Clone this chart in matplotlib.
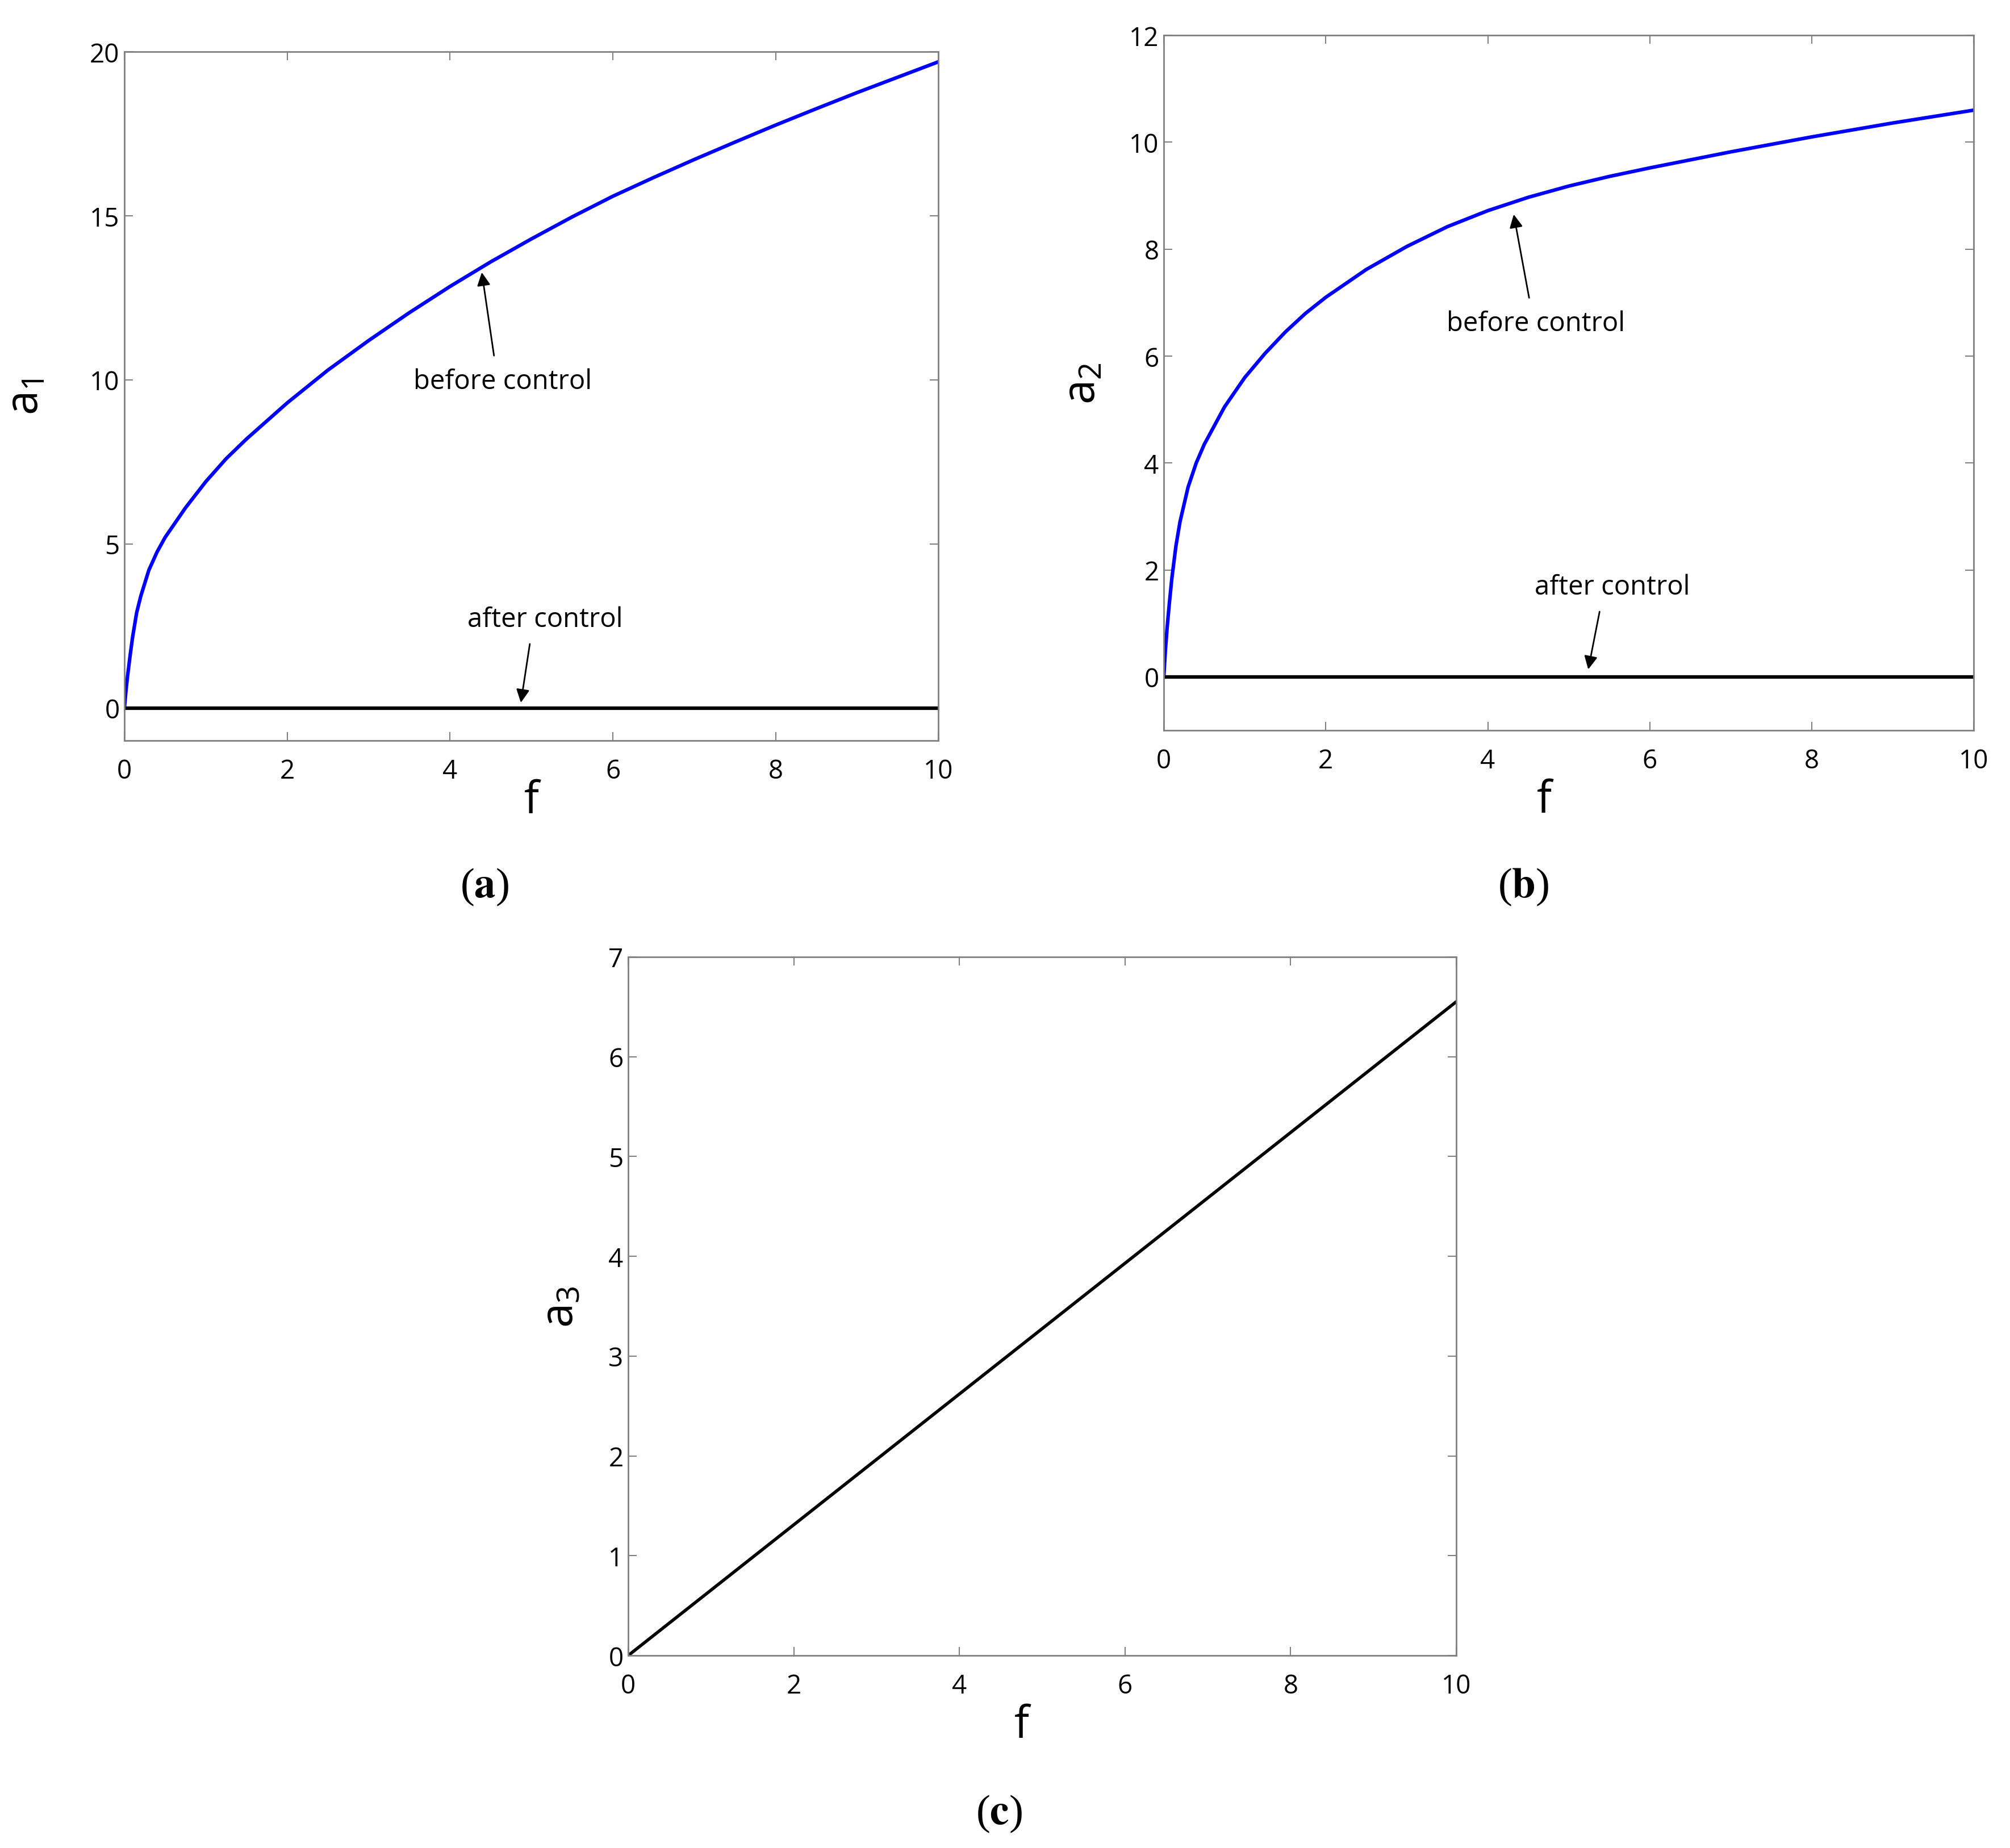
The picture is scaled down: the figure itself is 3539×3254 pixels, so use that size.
import numpy as np
import matplotlib
matplotlib.use("Agg")
import matplotlib.pyplot as plt

# values
f_a1 = [0, 0.02, 0.04, 0.07, 0.1, 0.15, 0.2, 0.3, 0.4, 0.5, 0.75, 1.0, 1.25, 1.5, 1.75,
        2.0, 2.5, 3.0, 3.5, 4.0, 4.5, 5.0, 5.5, 6.0, 6.5, 7.0, 7.5, 8.0, 8.5, 9.0, 9.5, 10.0]
a1_before = [0, 0.55, 1.0, 1.6, 2.15, 2.9, 3.4, 4.2, 4.75, 5.2, 6.1, 6.9, 7.6, 8.2, 8.75,
             9.3, 10.3, 11.2, 12.05, 12.85, 13.6, 14.3, 14.97, 15.6, 16.17, 16.72, 17.25,
             17.77, 18.27, 18.76, 19.23, 19.7]

f_a2 = [0, 0.02, 0.04, 0.07, 0.1, 0.15, 0.2, 0.3, 0.4, 0.5, 0.75, 1.0, 1.25, 1.5, 1.75,
        2.0, 2.5, 3.0, 3.5, 4.0, 4.5, 5.0, 5.5, 6.0, 6.5, 7.0, 7.5, 8.0, 8.5, 9.0, 9.5, 10.0]
a2_before = [0, 0.5, 0.9, 1.4, 1.85, 2.45, 2.9, 3.55, 4.0, 4.35, 5.05, 5.6, 6.05, 6.45, 6.8,
             7.1, 7.62, 8.05, 8.42, 8.72, 8.97, 9.18, 9.36, 9.52, 9.67, 9.82, 9.96,
             10.1, 10.23, 10.36, 10.48, 10.6]

f_after = [0, 10]
a_after = [0, 0]

f_a3 = [0, 10]
a3_vals = [0, 6.55]

plt.rcParams["font.family"] = ["Open Sans", "DejaVu Sans"]
plt.rcParams["mathtext.fontset"] = "custom"
plt.rcParams["mathtext.rm"] = "Open Sans"
plt.rcParams["mathtext.it"] = "Open Sans"

GREY = "#808080"


def style_axes(ax, yticks, ylim):
    ax.set_xlim(0, 10)
    ax.set_ylim(*ylim)
    ax.set_xticks([0, 2, 4, 6, 8, 10])
    ax.set_yticks(yticks)
    for s in ax.spines.values():
        s.set_color(GREY)
        s.set_linewidth(2)
    ax.tick_params(direction="in", length=11, width=1.5, color=GREY,
                   top=True, right=True, labelsize=33, labelcolor="black")
    ax.tick_params(axis="x", pad=22)
    ax.tick_params(axis="y", pad=6)


def annotate(ax, text, text_xy, tail, tip):
    ax.text(text_xy[0], text_xy[1], text, fontsize=34, ha="center", va="center")
    ax.annotate("", xy=tip, xytext=tail,
                arrowprops=dict(arrowstyle="-|>", color="black", lw=2,
                                mutation_scale=35, shrinkA=0, shrinkB=0))


fig = plt.figure(figsize=(35.39, 32.55), dpi=100)

# (a)
ax1 = fig.add_axes([0.0619, 0.599, 0.405, 0.3726])
ax1.plot(f_a1, a1_before, color="#0000ff", lw=4.5)
ax1.plot(f_after, a_after, color="black", lw=4.5)
style_axes(ax1, [0, 5, 10, 15, 20], (-1, 20))
ax1.set_xlabel("f", fontsize=56)
ax1.set_ylabel("a$_1$", fontsize=56)
ax1.xaxis.set_label_coords(0.5, -0.055)
ax1.yaxis.set_label_coords(-0.093, 0.5)
annotate(ax1, "before control", (4.65, 9.96), (4.54, 10.74), (4.39, 13.28))
annotate(ax1, "after control", (5.17, 2.7), (4.98, 1.95), (4.87, 0.16))

# (b)
ax2 = fig.add_axes([0.579, 0.6046, 0.403, 0.376])
ax2.plot(f_a2, a2_before, color="#0000ff", lw=4.5)
ax2.plot(f_after, a_after, color="black", lw=4.5)
style_axes(ax2, [0, 2, 4, 6, 8, 10, 12], (-1, 12))
ax2.set_xlabel("f", fontsize=56)
ax2.set_ylabel("a$_2$", fontsize=56)
ax2.xaxis.set_label_coords(0.47, -0.069)
ax2.yaxis.set_label_coords(-0.072, 0.5)
annotate(ax2, "before control", (4.59, 6.61), (4.51, 7.09), (4.32, 8.65))
annotate(ax2, "after control", (5.54, 1.68), (5.38, 1.22), (5.24, 0.14))

# (c)
ax3 = fig.add_axes([0.3125, 0.1041, 0.412, 0.378])
ax3.plot(f_a3, a3_vals, color="black", lw=4)
style_axes(ax3, [0, 1, 2, 3, 4, 5, 6, 7], (0, 7))
ax3.set_xlabel("f", fontsize=56)
ax3.set_ylabel("a$_3$", fontsize=56)
ax3.xaxis.set_label_coords(0.475, -0.068)
ax3.yaxis.set_label_coords(-0.054, 0.5)

# panel captions: thin parentheses, bold letter
for x, y, letter in [(0.241, 0.520, "a"), (0.758, 0.520, "b"), (0.497, 0.0187, "c")]:
    fig.text(x, y, r"($\mathbf{" + letter + r"}$)", fontsize=54, ha="center", va="center",
             family="Liberation Serif", math_fontfamily="stix")

fig.savefig("out.png", dpi=100)
